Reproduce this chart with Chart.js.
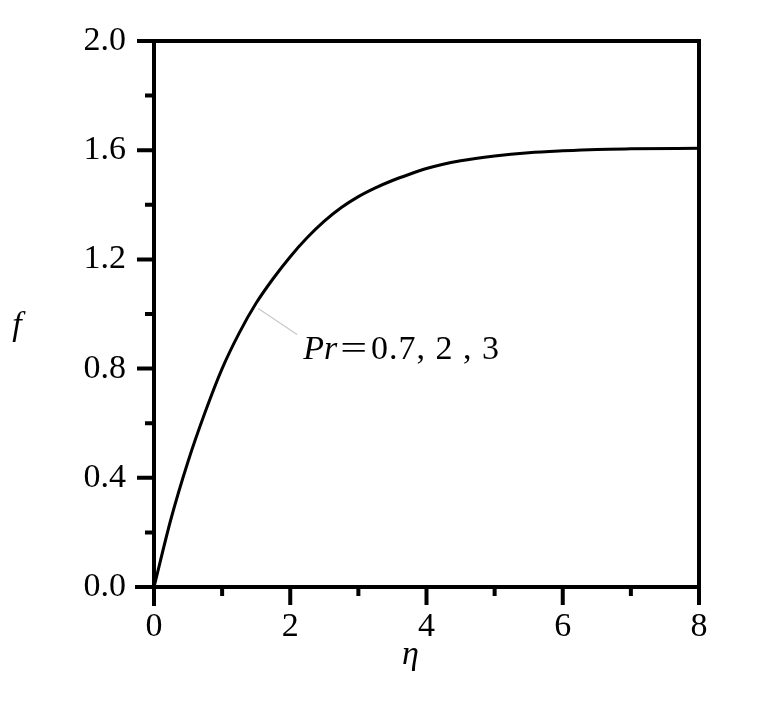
<!DOCTYPE html>
<html>
<head>
<meta charset="utf-8">
<script src="https://cdn.jsdelivr.net/npm/chart.js@4.4.0/dist/chart.umd.min.js"></script>
<style>
  html, body { margin: 0; padding: 0; background: #fff; }
  #wrap { width: 776px; height: 709px; }
</style>
</head>
<body>
<div id="wrap"><canvas id="fChart" width="776" height="709"></canvas></div>
<script>
// values
const etaValues = [0, 0.25, 0.5, 0.75, 1, 1.25, 1.5, 1.75, 2, 2.25, 2.5, 2.75, 3, 3.25, 3.5, 3.75, 4, 4.5, 5, 5.5, 6, 6.5, 7, 8];
const fValues = [0, 0.25, 0.46, 0.64, 0.80, 0.93, 1.04, 1.13, 1.21, 1.28, 1.34, 1.39, 1.43, 1.462, 1.489, 1.512, 1.533, 1.561, 1.579, 1.591, 1.598, 1.603, 1.605, 1.607];

const xMajorTicks = [0, 2, 4, 6, 8];
const xMinorTicks = [1, 3, 5, 7];
const yMajorTicks = [0, 0.4, 0.8, 1.2, 1.6, 2.0];
const yMinorTicks = [0.2, 0.6, 1.0, 1.4, 1.8];

const labelItalic = 'Pr';
const labelEq = '=';
const labelRest = '0.7, 2 , 3';
const leaderStart = [1.53, 1.02];
const leaderEnd = [2.10, 0.925];
const labelAt = [2.19, 0.835];

const serif = '"Liberation Serif", "DejaVu Serif", serif';

const framePlugin = {
    id: 'frame',
    afterDraw(chart) {
        const ctx = chart.ctx;
        const a = chart.chartArea;
        const xs = chart.scales.x, ys = chart.scales.y;
        ctx.save();
        ctx.strokeStyle = '#000';
        ctx.lineWidth = 4;
        ctx.lineCap = 'butt';
        ctx.beginPath();
        ctx.moveTo(a.left - 2, a.top); ctx.lineTo(a.right + 2, a.top);
        ctx.moveTo(a.right, a.top); ctx.lineTo(a.right, a.bottom);
        ctx.moveTo(a.left - 19, a.bottom); ctx.lineTo(a.right + 2, a.bottom);
        ctx.moveTo(a.left, a.top - 2); ctx.lineTo(a.left, a.bottom + 19);
        ctx.stroke();

        // ticks on the left and bottom, outward
        ctx.beginPath();
        yMajorTicks.forEach(v => { const y = ys.getPixelForValue(v); ctx.moveTo(a.left - 17, y); ctx.lineTo(a.left, y); });
        yMinorTicks.forEach(v => { const y = ys.getPixelForValue(v); ctx.moveTo(a.left - 9, y); ctx.lineTo(a.left, y); });
        xMajorTicks.forEach(v => { const x = xs.getPixelForValue(v); ctx.moveTo(x, a.bottom); ctx.lineTo(x, a.bottom + 18); });
        xMinorTicks.forEach(v => { const x = xs.getPixelForValue(v); ctx.moveTo(x, a.bottom); ctx.lineTo(x, a.bottom + 9); });
        ctx.stroke();

        // leader line and label
        ctx.strokeStyle = '#c8c8c8';
        ctx.lineWidth = 1.2;
        ctx.beginPath();
        ctx.moveTo(xs.getPixelForValue(leaderStart[0]), ys.getPixelForValue(leaderStart[1]));
        ctx.lineTo(xs.getPixelForValue(leaderEnd[0]), ys.getPixelForValue(leaderEnd[1]));
        ctx.stroke();

        ctx.fillStyle = '#000';
        ctx.textBaseline = 'alphabetic';
        ctx.textAlign = 'left';
        let lx = xs.getPixelForValue(labelAt[0]);
        const ly = ys.getPixelForValue(labelAt[1]);
        ctx.font = 'italic 34px ' + serif;
        ctx.fillText(labelItalic, lx, ly);
        lx += ctx.measureText(labelItalic).width + 3;
        ctx.font = '34px ' + serif;
        ctx.save();
        ctx.scale(1.4, 1);
        ctx.fillText(labelEq, lx / 1.4, ly);
        ctx.restore();
        lx += ctx.measureText(labelEq).width * 1.4 + 4;
        ctx.letterSpacing = '1px';
        ctx.fillText(labelRest, lx, ly);
        ctx.letterSpacing = '0px';

        // axis titles
        ctx.font = 'italic 34px ' + serif;
        ctx.textAlign = 'center';
        ctx.textBaseline = 'middle';
        ctx.fillText('f', 17, (a.top + a.bottom) / 2 + 12);
        ctx.fillText('η', (a.left + a.right) / 2 - 16, a.bottom + 68);
        ctx.restore();
    }
};

new Chart(document.getElementById('fChart'), {
    type: 'line',
    data: {
        datasets: [{
            data: etaValues.map((x, i) => ({ x: x, y: fValues[i] })),
            borderColor: '#000',
            borderWidth: 3,
            pointRadius: 0,
            fill: false,
            cubicInterpolationMode: 'monotone'
        }]
    },
    options: {
        responsive: false,
        animation: false,
        layout: { padding: { top: 41, right: 77, left: 0, bottom: 0 } },
        plugins: { legend: { display: false }, tooltip: { enabled: false } },
        scales: {
            x: {
                type: 'linear',
                min: 0, max: 8,
                afterBuildTicks: s => { s.ticks = xMajorTicks.map(v => ({ value: v })); },
                afterFit: s => { s.height = 709 - 587; s.paddingLeft = 0; s.paddingRight = 0; },
                grid: { display: false, drawTicks: false },
                border: { display: false },
                ticks: { color: '#000', padding: 20, maxRotation: 0, font: { family: serif, size: 34 } }
            },
            y: {
                type: 'linear',
                min: 0, max: 2,
                afterBuildTicks: s => { s.ticks = yMajorTicks.map(v => ({ value: v })); },
                afterFit: s => { s.width = 154; s.paddingTop = 0; s.paddingBottom = 0; },
                grid: { display: false, drawTicks: false },
                border: { display: false },
                ticks: { color: '#000', padding: 28, font: { family: serif, size: 34 },
                         callback: v => v.toFixed(1) }
            }
        }
    },
    plugins: [framePlugin]
});
</script>
</body>
</html>
